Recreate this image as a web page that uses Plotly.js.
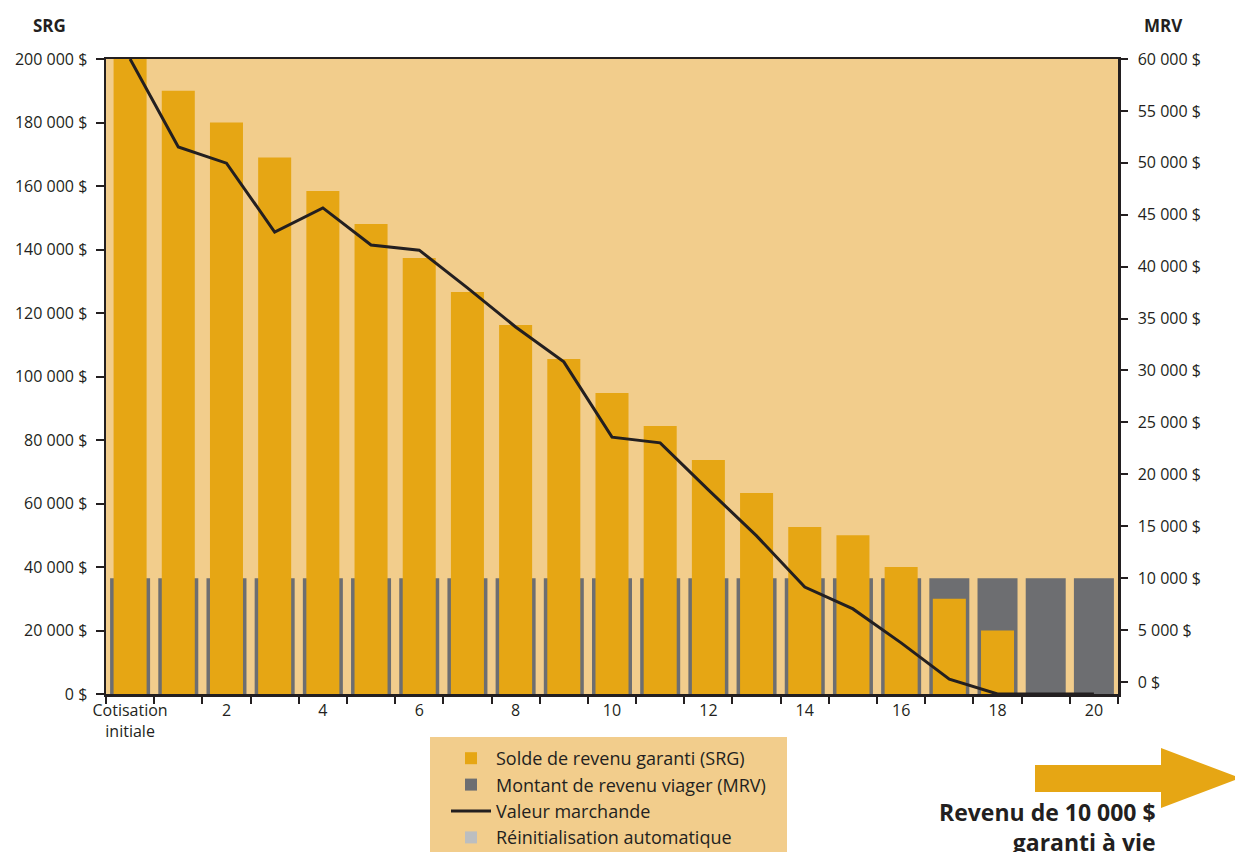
<!DOCTYPE html>
<html>
<head>
<meta charset="utf-8">
<script src="https://cdn.plot.ly/plotly-3.0.1.min.js"></script>
<style>
html,body{margin:0;padding:0;background:#ffffff;}
#chart{width:1235px;height:852px;}
</style>
</head>
<body>
<div id="chart"></div>
<script>
// ---- data ----
const years = ['0','1','2','3','4','5','6','7','8','9','10','11','12','13','14','15','16','17','18','19','20'];
const tickLabels = ['Cotisation<br>initiale','','2','','4','','6','','8','','10','','12','','14','','16','','18','','20'];
const srg = [200000,190000,180000,169000,158400,148000,137300,126600,116200,105500,94800,84400,73700,63300,52600,50000,40000,30000,20000,0,0];
const mrv = [10000,10000,10000,10000,10000,10000,10000,10000,10000,10000,10000,10000,10000,10000,10000,10000,10000,10000,10000,10000,10000];
const valeurMarchande = [200000,172300,167200,145500,153100,141400,139800,127900,115600,104600,80900,79100,64300,49800,33700,26800,16100,4700,0,0,0];
const reinit = [null,null,null,null,null,null,null,null,null,null,null,null,null,null,null,null,null,null,null,null,null];
const names = ['Solde de revenu garanti (SRG)','Montant de revenu viager (MRV)','Valeur marchande','Réinitialisation automatique'];

// ---- styles ----
const FONT = 'Open Sans, Lato, sans-serif';
const TXT = '#231f20';
const C_ORANGE = '#e6a614';
const C_GRAY = '#6d6e71';
const C_LIGHT = '#f2cd8c';
const C_RESET = '#bcbec0';
const mrvRange = [-1160, 60000];
const mrvFloor = mrvRange[0];   // MRV bars are drawn from the bottom of the axis up to their value

// plot area in pixels (for paper-coordinate decorations)
const L = 106, R = 1118, T = 59, B = 694;
const px = x => (x - L) / (R - L);
const py = y => (B - y) / (B - T);

const traces = [
  {type:'bar', x:years, y:mrv.map(v => v - mrvFloor), base:mrvFloor, yaxis:'y', name:names[1],
   marker:{color:C_GRAY}, width:0.83, showlegend:true, legendrank:2, hoverinfo:'skip'},
  {type:'bar', x:years, y:srg, yaxis:'y2', name:names[0],
   marker:{color:C_ORANGE}, width:0.685, legendrank:1},
  {type:'scatter', mode:'lines', x:years, y:valeurMarchande, yaxis:'y2', name:names[2],
   line:{color:TXT, width:3}, legendrank:3},
  {type:'bar', x:years, y:reinit, yaxis:'y2', name:names[3],
   marker:{color:C_RESET}, showlegend:true, legendrank:4}
];

const arrow = 'M' + px(1035) + ',' + py(765) +
  ' L' + px(1161) + ',' + py(765) +
  ' L' + px(1161) + ',' + py(748) +
  ' L' + px(1240) + ',' + py(778) +
  ' L' + px(1161) + ',' + py(808) +
  ' L' + px(1161) + ',' + py(792) +
  ' L' + px(1035) + ',' + py(792) + ' Z';

const layout = {
  width:1235, height:852,
  margin:{l:L, r:1235-R, t:T, b:852-B, pad:0, autoexpand:false},
  paper_bgcolor:'#ffffff',
  plot_bgcolor:C_LIGHT,
  separators:', ',
  font:{family:FONT, color:TXT, size:16},
  barmode:'overlay',
  showlegend:true,
  legend:{x:px(446), y:py(740), xanchor:'left', yanchor:'top',
          bgcolor:'rgba(0,0,0,0)', font:{family:FONT, size:18, color:TXT},
          traceorder:'normal', itemwidth:40, tracegroupgap:0},
  xaxis:{type:'category', tickson:'boundaries', tickvals:years, ticktext:tickLabels,
         tickangle:0, automargin:false,
         ticks:'outside', ticklen:7, tickwidth:2, tickcolor:TXT,
         showline:true, linecolor:TXT, linewidth:2.5, mirror:true,
         showgrid:false, zeroline:false, tickfont:{size:16, color:TXT}},
  yaxis:{side:'right', range:mrvRange, tickmode:'linear', tick0:0, dtick:5000, automargin:false,
         tickformat:',d', ticksuffix:' $', ticks:'outside', ticklen:7, tickwidth:2,
         ticklabelstandoff:7,
         tickcolor:TXT, showline:true, linecolor:TXT, linewidth:2.5,
         showgrid:false, zeroline:false, tickfont:{size:16, color:TXT}},
  yaxis2:{overlaying:'y', side:'left', range:[0,200000], tickmode:'linear', dtick:20000, automargin:false,
          tickformat:',d', ticksuffix:' $', ticks:'outside', ticklen:8, tickwidth:2,
          ticklabelstandoff:5,
          tickcolor:TXT, showline:true, linecolor:TXT, linewidth:2.5,
          showgrid:false, zeroline:false, tickfont:{size:16, color:TXT}},
  shapes:[
    {type:'rect', xref:'paper', yref:'paper', x0:px(430), x1:px(787), y0:py(737), y1:py(860),
     fillcolor:C_LIGHT, line:{width:0}, layer:'below'},
    {type:'path', xref:'paper', yref:'paper', path:arrow, fillcolor:C_ORANGE, line:{width:0}}
  ],
  annotations:[
    {xref:'paper', yref:'paper', x:px(49), y:py(26), xanchor:'center', yanchor:'middle', text:'<b>SRG</b>', showarrow:false,
     font:{family:FONT, size:17, color:TXT}},
    {xref:'paper', yref:'paper', x:px(1163), y:py(26), xanchor:'center', yanchor:'middle', text:'<b>MRV</b>', showarrow:false,
     font:{family:FONT, size:17, color:TXT}},
    {xref:'paper', yref:'paper', x:px(1158), y:py(794), xanchor:'right', yanchor:'top', align:'right',
     text:'<b>Revenu de 10 000 $</b><br><b>garanti à vie</b>', showarrow:false,
     font:{family:FONT, size:23, color:TXT}}
  ]
};

Plotly.newPlot('chart', traces, layout, {displayModeBar:false, staticPlot:true});
</script>
</body>
</html>
